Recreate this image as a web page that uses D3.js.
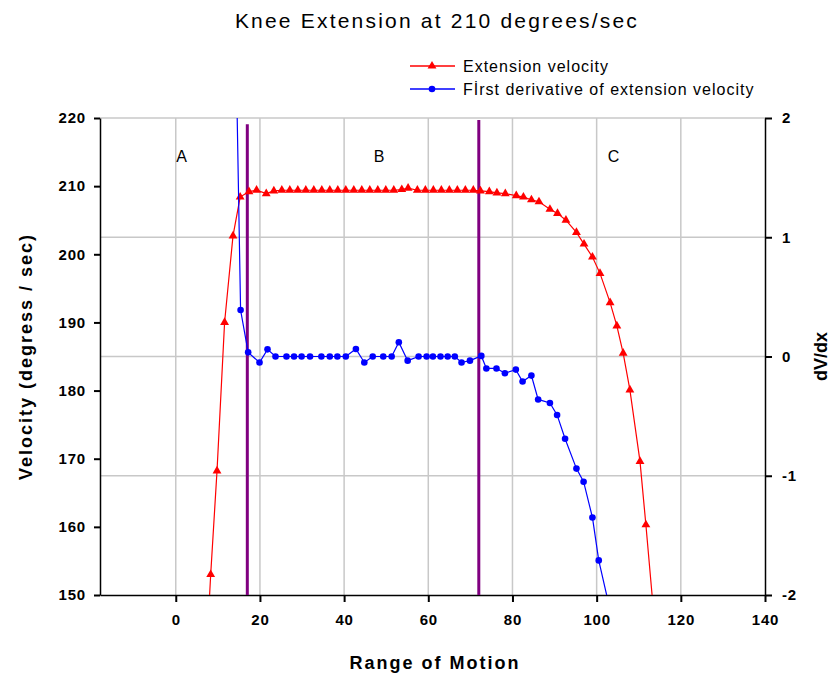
<!DOCTYPE html>
<html>
<head>
<meta charset="utf-8">
<script src="https://cdn.jsdelivr.net/npm/d3@7"></script>
<style>
  body { margin: 0; background: #fff; }
  svg text { font-family: "Liberation Sans", Arial, sans-serif; fill: #000; }
</style>
</head>
<body>
<div id="chart-area"></div>
<script>
// Knee extension: velocity and its first derivative vs range of motion

var velocityX = [6.4, 8.3, 9.8, 11.6, 13.6, 15.3, 17.4, 19.2, 21.5, 23.3, 25.2, 27.1, 29.0, 30.9, 32.8,
    34.7, 36.6, 38.5, 40.4, 42.3, 44.2, 46.1, 48.0, 49.9, 51.8, 53.7, 55.2, 57.4, 59.3, 61.2, 63.1,
    65.0, 66.9, 68.8, 70.7, 72.4, 74.5, 76.3, 78.3, 80.9, 82.6, 84.5, 86.3, 88.9, 90.7, 92.7, 95.2,
    97.0, 99.0, 100.8, 103.2, 104.8, 106.3, 107.9, 110.3, 111.7, 113.6];
var velocityY = [131, 153, 168.2, 190, 202.7, 208.4, 209.2, 209.4, 208.9, 209.3, 209.4, 209.4, 209.4, 209.4, 209.4,
    209.4, 209.4, 209.4, 209.4, 209.4, 209.4, 209.4, 209.4, 209.4, 209.4, 209.5, 209.7, 209.4, 209.4, 209.4, 209.4,
    209.4, 209.4, 209.4, 209.4, 209.3, 209.2, 209.0, 208.9, 208.6, 208.4, 208.0, 207.7, 206.6, 206.0, 205.0, 203.2,
    201.5, 199.6, 197.2, 192.9, 189.5, 185.5, 180.1, 169.6, 160.3, 147];

var derivX = [14.3, 15.4, 17.2, 19.9, 21.8, 23.7, 26.3, 28.1, 29.9, 31.9, 34.6, 36.6, 38.4, 40.4, 42.8,
    44.8, 46.8, 49.3, 51.3, 53.0, 55.1, 57.7, 59.6, 61.1, 62.9, 64.6, 66.3, 67.9, 69.9, 72.6, 73.8,
    76.2, 78.2, 80.8, 82.4, 84.5, 86.1, 88.9, 90.6, 92.5, 95.2, 96.9, 99.0, 100.5, 102.7];
var derivY = [2.6, 0.39, 0.035, -0.05, 0.06, 0, 0, 0, 0, 0, 0, 0, 0, 0, 0.063,
    -0.05, 0, 0, 0, 0.12, -0.035, 0, 0, 0, 0, 0, 0, -0.05, -0.035, 0.005, -0.1,
    -0.1, -0.14, -0.11, -0.21, -0.16, -0.36, -0.39, -0.49, -0.69, -0.94, -1.05, -1.35, -1.71, -2.05];

var xTicks = [0, 20, 40, 60, 80, 100, 120, 140];
var yLeftTicks = [150, 160, 170, 180, 190, 200, 210, 220];
var yRightTicks = [-2, -1, 0, 1, 2];

// phase boundaries (x position, top of line on the velocity scale)
var dividerX = [17, 72];
var dividerTop = [219.1, 219.7];

var phaseLabels = ["A", "B", "C"];
var phaseX = [1.4, 48.3, 104];
var phaseY = 214.3;

var velocity = velocityX.map(function (d, i) { return {x: d, y: velocityY[i]}; });
var deriv = derivX.map(function (d, i) { return {x: d, y: derivY[i]}; });

var margin = {left: 100, right: 73, top: 118, bottom: 80};
var width = 838 - margin.left - margin.right,
    height = 675 - margin.top - margin.bottom;

var svg = d3.select("#chart-area")
    .append("svg")
        .attr("width", 838)
        .attr("height", 675);

var g = svg.append("g")
    .attr("transform", "translate(" + margin.left + ", " + margin.top + ")");

var x = d3.scaleLinear().domain([-18, 140]).range([0, width]);
var yL = d3.scaleLinear().domain([150, 220]).range([height, 0]);
var yR = d3.scaleLinear().domain([-2, 2]).range([height, 0]);

svg.append("defs").append("clipPath").attr("id", "plot-clip")
    .append("rect").attr("x", 0).attr("y", 0).attr("width", width).attr("height", height);

// Grid lines
g.append("g").selectAll("line.vgrid")
    .data(xTicks.filter(function (d) { return d < 140; }))
    .enter().append("line")
        .attr("x1", function (d) { return x(d); })
        .attr("x2", function (d) { return x(d); })
        .attr("y1", 0).attr("y2", height)
        .attr("stroke", "#c8c8c8").attr("stroke-width", 1.5);

g.append("g").selectAll("line.hgrid")
    .data(yRightTicks.filter(function (d) { return d > -2; }))
    .enter().append("line")
        .attr("x1", 0).attr("x2", width)
        .attr("y1", function (d) { return yR(d); })
        .attr("y2", function (d) { return yR(d); })
        .attr("stroke", "#c8c8c8").attr("stroke-width", 1.5);

// Axes
var xAxis = g.append("g")
    .attr("transform", "translate(0," + height + ")")
    .call(d3.axisBottom(x).tickValues(xTicks).tickSize(7).tickSizeOuter(0).tickPadding(12));
var yAxisL = g.append("g")
    .call(d3.axisLeft(yL).tickValues(yLeftTicks).tickSize(6).tickSizeOuter(0).tickPadding(8));
var yAxisR = g.append("g")
    .attr("transform", "translate(" + width + ",0)")
    .call(d3.axisRight(yR).tickValues(yRightTicks).tickSize(7).tickSizeOuter(0).tickPadding(10)
        .tickFormat(function (d) { return String(d); }));

[xAxis, yAxisL, yAxisR].forEach(function (a) {
    a.select(".domain").attr("stroke", "#000").attr("stroke-width", 1.5);
    a.selectAll(".tick line").attr("stroke", "#000").attr("stroke-width", 2);
    a.selectAll(".tick text")
        .attr("font-size", "15px")
        .attr("font-weight", "bold")
        .attr("letter-spacing", "0.8px")
        .attr("font-family", "'Liberation Sans', Arial, sans-serif")
        .attr("fill", "#111");
});

// Phase dividers
g.append("g").selectAll("line.divider")
    .data(dividerX)
    .enter().append("line")
        .attr("x1", function (d) { return x(d); })
        .attr("x2", function (d) { return x(d); })
        .attr("y1", function (d, i) { return yL(dividerTop[i]); })
        .attr("y2", height)
        .attr("stroke", "#800080").attr("stroke-width", 3);

// Phase labels
g.append("g").selectAll("text.phase")
    .data(phaseLabels)
    .enter().append("text")
        .attr("x", function (d, i) { return x(phaseX[i]); })
        .attr("y", yL(phaseY))
        .attr("dy", "0.35em")
        .attr("text-anchor", "middle")
        .attr("font-size", "16px")
        .text(function (d) { return d; });

var plot = g.append("g").attr("clip-path", "url(#plot-clip)");

// Velocity series (left axis)
var lineL = d3.line().x(function (d) { return x(d.x); }).y(function (d) { return yL(d.y); });
plot.append("path")
    .datum(velocity)
    .attr("fill", "none").attr("stroke", "#ff0000").attr("stroke-width", 1.2)
    .attr("d", lineL);
plot.selectAll("path.tri")
    .data(velocity)
    .enter().append("path")
        .attr("d", d3.symbol().type(d3.symbolTriangle).size(34))
        .attr("transform", function (d) { return "translate(" + x(d.x) + "," + yL(d.y) + ")"; })
        .attr("fill", "#ff0000");

// Derivative series (right axis)
var lineR = d3.line().x(function (d) { return x(d.x); }).y(function (d) { return yR(d.y); });
plot.append("path")
    .datum(deriv)
    .attr("fill", "none").attr("stroke", "#0000ff").attr("stroke-width", 1.2)
    .attr("d", lineR);
plot.selectAll("circle.dot")
    .data(deriv)
    .enter().append("circle")
        .attr("cx", function (d) { return x(d.x); })
        .attr("cy", function (d) { return yR(d.y); })
        .attr("r", 3.3)
        .attr("fill", "#0000ff");

// Title
svg.append("text")
    .attr("x", 437).attr("y", 28)
    .attr("text-anchor", "middle")
    .attr("font-size", "21px")
    .attr("letter-spacing", "2.2px")
    .text("Knee Extension at 210 degrees/sec");

// Axis labels
svg.append("text")
    .attr("x", 435).attr("y", 669)
    .attr("text-anchor", "middle")
    .attr("font-size", "18px")
    .attr("font-weight", "bold")
    .attr("letter-spacing", "2px")
    .text("Range of Motion");

svg.append("text")
    .attr("transform", "translate(32," + (margin.top + height / 2) + ") rotate(-90)")
    .attr("text-anchor", "middle")
    .attr("font-size", "18px")
    .attr("font-weight", "bold")
    .attr("letter-spacing", "2px")
    .text("Velocity (degress / sec)");

svg.append("text")
    .attr("transform", "translate(827," + (margin.top + height / 2) + ") rotate(-90)")
    .attr("text-anchor", "middle")
    .attr("font-size", "18px")
    .attr("font-weight", "bold")
    .text("dV/dx");

// Legend
var legendItems = ["Extension velocity", "Fİrst derivative of extension velocity"];
var legendColors = ["#ff0000", "#0000ff"];
var legend = svg.append("g").attr("transform", "translate(410, 66)");
legendItems.forEach(function (label, i) {
    var row = legend.append("g").attr("transform", "translate(0," + (i * 23) + ")");
    row.append("line")
        .attr("x1", 0).attr("x2", 45).attr("y1", 0).attr("y2", 0)
        .attr("stroke", legendColors[i]).attr("stroke-width", 1.5);
    if (i === 0) {
        row.append("path")
            .attr("d", d3.symbol().type(d3.symbolTriangle).size(34))
            .attr("transform", "translate(22,0)")
            .attr("fill", legendColors[i]);
    } else {
        row.append("circle").attr("cx", 22).attr("cy", 0).attr("r", 3.3).attr("fill", legendColors[i]);
    }
    row.append("text")
        .attr("x", 53).attr("dy", "0.35em")
        .attr("font-size", "16px")
        .attr("letter-spacing", "1px")
        .text(label);
});
</script>
</body>
</html>
